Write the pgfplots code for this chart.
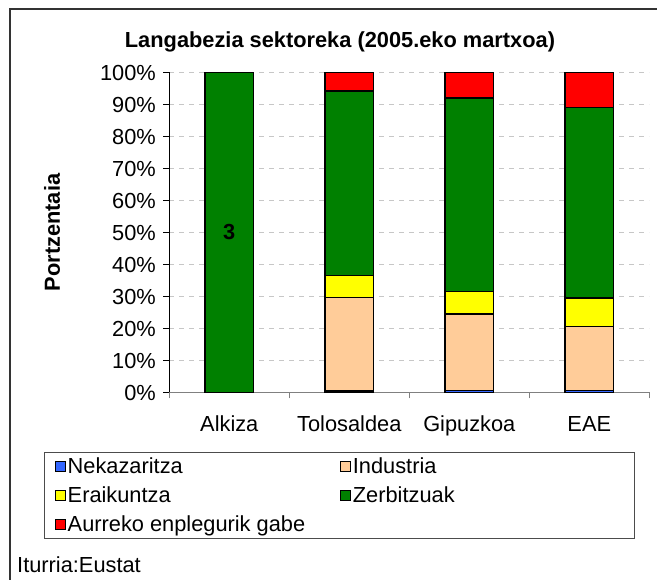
\documentclass[border=0pt]{standalone}
\usepackage{pgfplots}
\pgfplotsset{compat=1.18}
\usepackage{fontspec}
\setmainfont{Liberation Sans}
\definecolor{neka}{HTML}{3366FF}
\definecolor{ind}{HTML}{FFCC99}
\definecolor{erai}{HTML}{FFFF00}
\definecolor{zerb}{HTML}{008000}
\definecolor{aurr}{HTML}{FF0000}
\newcommand{\fs}{\fontsize{21.8bp}{25bp}\selectfont}
\begin{document}
\begin{tikzpicture}
\useasboundingbox (0bp,0bp) rectangle (657bp,580bp);
\fill[white] (0bp,0bp) rectangle (657bp,580bp);
\draw[line width=1.5bp, black!80] (10bp,0bp) -- (10bp,571bp) -- (657bp,571bp);
\node[font=\fs\bfseries] at (340bp,538bp) {Langabezia sektoreka (2005.eko martxoa)};
\node[font=\fs, anchor=west, inner sep=0pt] at (17bp,15bp) {Iturria:Eustat};
\begin{axis}[
  at={(169.3bp,187.5bp)}, anchor=south west,
  width=480bp, height=320bp, scale only axis,
  ybar stacked, bar width=0.405,
  xmin=-0.5, xmax=3.5, ymin=0, ymax=100,
  xtick={-0.5,0.5,1.5,2.5,3.5},
  xticklabels={Alkiza,Tolosaldea,Gipuzkoa,EAE,{}},
  x tick label style={xshift=60bp, yshift=-14bp},
  y tick label style={xshift=-4bp},
  ytick={0,10,...,100},
  yticklabel={\pgfmathprintnumber{\tick}\%},
  /pgf/number format/assume math mode=true,
  tick label style={font=\fs},
  axis x line*=bottom, axis y line*=left,
  x axis line style={draw=gray, line width=1.5bp, -},
  y axis line style={draw=black, line width=1bp, -},
  tick align=outside, major tick length=6bp,
  x tick style={draw=gray, line width=1bp},
  y tick style={draw=black, line width=1bp},
  ymajorgrids,
  grid style={dash pattern=on 5bp off 5bp, draw=black!22, line width=1bp},
  ylabel={Portzentaia},
  ylabel style={font=\fs\bfseries, at={(axis description cs:-0.244,0.5)}, anchor=center},
  every axis plot/.append style={draw=black, line width=1.5bp},
  legend columns=2,
  legend cell align=left,
  legend style={at={(-0.261,-0.186)}, anchor=north west, draw=black!70, line width=1bp,
    font=\fs, inner xsep=10bp, inner ysep=3bp, row sep=8bp},
  legend image code/.code={\draw[#1,draw=black,line width=1.2bp] (0bp,-5bp) rectangle (10bp,5bp);},
]
\addplot[fill=neka] coordinates {(0,0) (1,0.4) (2,0.7) (3,0.6)};
\addplot[fill=ind] coordinates {(0,0) (1,29.3) (2,23.8) (3,20.0)};
\addplot[fill=erai] coordinates {(0,0) (1,6.8) (2,7.0) (3,8.9)};
\addplot[fill=zerb, point meta=explicit symbolic, nodes near coords,
  every node near coord/.append style={font=\fs\bfseries, anchor=center, text=black}]
  coordinates {(0,100) [3] (1,57.7) [] (2,60.5) [] (3,59.5) []};
\addplot[fill=aurr] coordinates {(0,0) (1,5.8) (2,8.0) (3,11.0)};
\legend{\makebox[270bp][l]{Nekazaritza},\makebox[270bp][l]{Industria},Eraikuntza,Zerbitzuak,Aurreko enplegurik gabe}
\end{axis}
\end{tikzpicture}
\end{document}
